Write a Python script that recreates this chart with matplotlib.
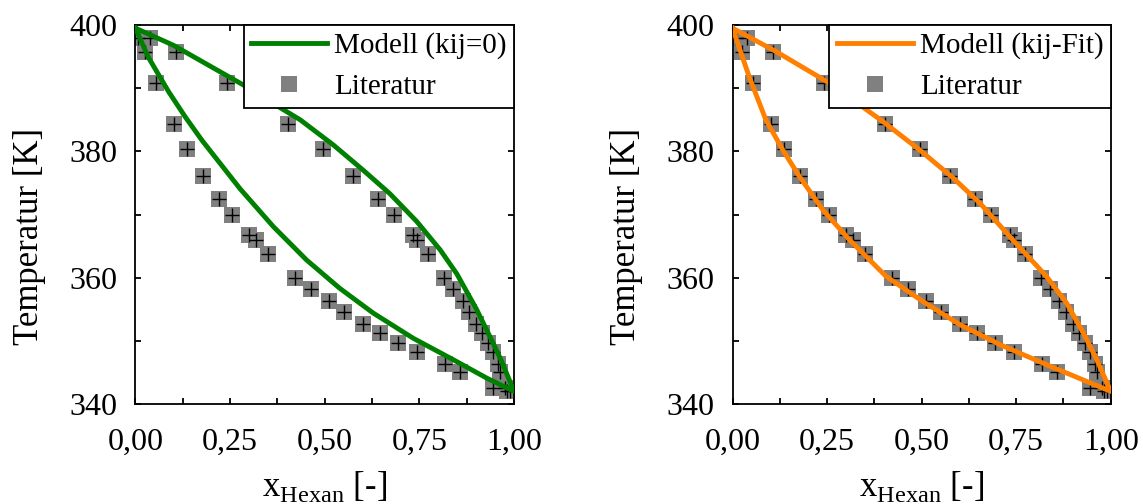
import numpy as np
import matplotlib
matplotlib.use("Agg")
import matplotlib.pyplot as plt
from matplotlib.ticker import MultipleLocator, FuncFormatter

plt.rcParams["font.family"] = ["Liberation Serif", "DejaVu Serif"]
plt.rcParams["mathtext.fontset"] = "custom"
plt.rcParams["mathtext.rm"] = "Liberation Serif"

# Literaturdaten (Siedelinie x, Taulinie y, gleiche Temperaturen)
T_lit = [398.0, 395.7, 390.8, 384.4, 380.3, 376.1, 372.4, 370.0, 366.8, 365.9,
         363.7, 360.0, 358.2, 356.3, 354.6, 352.6, 351.3, 349.6, 348.2, 346.4,
         345.1, 342.5, 342.1]
x_lit = [0.008, 0.025, 0.053, 0.102, 0.137, 0.179, 0.221, 0.254, 0.301, 0.318,
         0.349, 0.421, 0.463, 0.511, 0.552, 0.602, 0.646, 0.694, 0.744, 0.818,
         0.857, 0.945, 0.981]
y_lit = [0.038, 0.106, 0.243, 0.402, 0.495, 0.576, 0.641, 0.684, 0.734, 0.743,
         0.774, 0.816, 0.840, 0.864, 0.881, 0.899, 0.915, 0.932, 0.944, 0.958,
         0.963, 0.977, 0.990]

# Modell kij=0
x_bub_0 = [0.0, 0.034, 0.087, 0.131, 0.175, 0.276, 0.364, 0.452, 0.540, 0.628,
           0.734, 0.840, 0.928, 1.0]
T_bub_0 = [399.5, 394.9, 389.5, 385.5, 381.8, 374.1, 368.1, 362.8, 358.3, 354.4,
           350.4, 347.0, 344.1, 342.0]
x_dew_0 = [0.0, 0.100, 0.200, 0.294, 0.377, 0.435, 0.523, 0.600, 0.672, 0.743,
           0.805, 0.849, 0.901, 0.945, 0.967, 1.0]
T_dew_0 = [399.5, 396.8, 393.4, 390.2, 387.1, 385.0, 381.0, 377.1, 373.3, 368.9,
           364.4, 360.6, 355.0, 349.6, 346.8, 342.0]

# Modell kij-Fit
x_bub_fit = [0.0, 0.044, 0.088, 0.133, 0.177, 0.239, 0.309, 0.406, 0.504, 0.600,
             0.707, 0.839, 1.0]
T_bub_fit = [399.5, 391.8, 385.0, 380.2, 376.0, 370.7, 366.0, 360.2, 356.2, 352.6,
             349.4, 346.0, 342.0]
x_dew_fit = [0.0, 0.115, 0.256, 0.398, 0.495, 0.583, 0.654, 0.733, 0.830, 0.883,
             0.928, 0.963, 1.0]
T_dew_fit = [399.5, 395.8, 390.8, 384.7, 380.2, 375.8, 371.8, 366.5, 360.2, 356.0,
             351.2, 347.0, 342.0]

GRAY = "#808080"
fig = plt.figure(figsize=(11.43, 5.04), dpi=100)
axes = [fig.add_axes([0.1185, 0.1984, 0.3312, 0.752]),
        fig.add_axes([0.6409, 0.1984, 0.3309, 0.752])]

models = [("Modell (kij=0)", "#008000", x_bub_0, T_bub_0, x_dew_0, T_dew_0),
          ("Modell (kij-Fit)", "#FF8000", x_bub_fit, T_bub_fit, x_dew_fit, T_dew_fit)]

for ax, (lab, col, xb, tb, xd, td) in zip(axes, models):
    ax.plot(x_lit, T_lit, "s", color=GRAY, ms=12, mew=0, zorder=2)
    ax.plot(y_lit, T_lit, "s", color=GRAY, ms=12, mew=0, zorder=2)
    ax.plot(x_lit + y_lit, T_lit + T_lit, "+", color="k", ms=10, mew=1.0, zorder=3)
    ax.plot(list(xb) + list(xd)[::-1], list(tb) + list(td)[::-1], "-",
            color=col, lw=3.5, zorder=4, label=lab, solid_joinstyle="round")
    ax.plot([], [], "s", color=GRAY, ms=12, mew=0, label="Literatur")

    ax.set_xlim(0, 1)
    ax.set_ylim(340, 400)
    ax.xaxis.set_major_locator(MultipleLocator(0.25))
    ax.xaxis.set_minor_locator(MultipleLocator(0.125))
    ax.yaxis.set_major_locator(MultipleLocator(20))
    ax.yaxis.set_minor_locator(MultipleLocator(10))
    ax.xaxis.set_major_formatter(FuncFormatter(lambda v, p: f"{v:.2f}".replace(".", ",")))
    ax.yaxis.set_major_formatter(FuncFormatter(lambda v, p: f"{v:.0f}"))
    ax.tick_params(which="both", direction="in", top=True, right=True,
                   length=4.5, width=1.3, labelsize=23)
    ax.tick_params(axis="x", pad=17)
    ax.tick_params(axis="y", pad=13)
    for s in ax.spines.values():
        s.set_linewidth(1.3)

    ax.set_xlabel(r"x$_{\mathrm{Hexan}}$ [-]", fontsize=25)
    ax.set_ylabel("Temperatur [K]", fontsize=25)
    ax.xaxis.set_label_coords(0.5, -0.172)
    ax.yaxis.set_label_coords(-0.237, 0.443)

    leg = ax.legend(loc="upper right", borderaxespad=0, fontsize=21, numpoints=1,
                    fancybox=False, framealpha=1, edgecolor="k",
                    handlelength=2.6, handletextpad=0.25, borderpad=0.25,
                    labelspacing=0.5)
    leg.get_frame().set_linewidth(1.3)

fig.savefig("out.png", dpi=100)
